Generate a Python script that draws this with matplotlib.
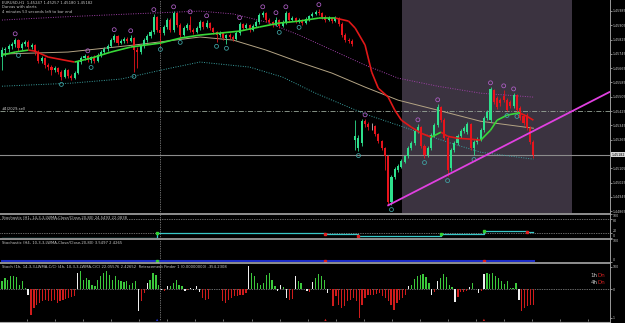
import matplotlib
matplotlib.use("Agg")
import matplotlib.pyplot as plt
import numpy as np
from matplotlib.collections import LineCollection
from matplotlib.lines import Line2D

# ──────────────────────────────────────────────────────────────
# Data (EURUSD candles)
# ──────────────────────────────────────────────────────────────

opens = [
    1.45727, 1.45766, 1.45772, 1.45788, 1.45800, 1.45822, 1.45777, 1.45800, 1.45811, 1.45783,
    1.45794, 1.45755, 1.45704, 1.45721, 1.45682, 1.45671, 1.45654, 1.45665, 1.45643, 1.45615,
    1.45654, 1.45620, 1.45609, 1.45637, 1.45699, 1.45721, 1.45732, 1.45710, 1.45727, 1.45704,
    1.45738, 1.45755, 1.45772, 1.45788, 1.45822, 1.45844, 1.45805, 1.45816, 1.45828, 1.45816,
    1.45833, 1.45766, 1.45755, 1.45788, 1.45822, 1.45844, 1.45867, 1.45951, 1.45878, 1.45861,
    1.45895, 1.45934, 1.45878, 1.45973, 1.45906, 1.45850, 1.45889, 1.45906, 1.45878, 1.45867,
    1.45889, 1.45923, 1.45895, 1.45917, 1.45889, 1.45867, 1.45850, 1.45861, 1.45833, 1.45850,
    1.45839, 1.45828, 1.45861, 1.45912, 1.45889, 1.45906, 1.45878, 1.45900, 1.45923, 1.45962,
    1.45973, 1.45934, 1.45923, 1.45906, 1.45934, 1.45900, 1.45923, 1.45973, 1.45934, 1.45945,
    1.45928, 1.45934, 1.45917, 1.45940, 1.45956, 1.45968, 1.45979, 1.45973, 1.45951, 1.45934,
    1.45945, 1.45928, 1.45945, 1.45912, 1.45850, 1.45822, 1.45816, 1.45262, 1.45217, 1.45245,
    1.45368, 1.45352, 1.45340, 1.45340, 1.45296, 1.45256, 1.45217, 1.45172, 1.44915, 1.45055,
    1.45094, 1.45111, 1.45139, 1.45172, 1.45217, 1.45245, 1.45312, 1.45335, 1.45228, 1.45178,
    1.45217, 1.45290, 1.45346, 1.45447, 1.45374, 1.45273, 1.45105, 1.45206, 1.45245, 1.45284,
    1.45312, 1.45307, 1.45352, 1.45217, 1.45251, 1.45268, 1.45318, 1.45385, 1.45374, 1.45542,
    1.45497, 1.45486, 1.45508, 1.45486, 1.45475, 1.45452, 1.45514, 1.45441, 1.45396, 1.45402,
    1.45329, 1.45251,
]
closes = [
    1.45766, 1.45772, 1.45788, 1.45800, 1.45822, 1.45777, 1.45800, 1.45811, 1.45783, 1.45794,
    1.45755, 1.45704, 1.45721, 1.45682, 1.45671, 1.45654, 1.45665, 1.45643, 1.45615, 1.45654,
    1.45620, 1.45609, 1.45637, 1.45699, 1.45721, 1.45732, 1.45710, 1.45727, 1.45704, 1.45738,
    1.45755, 1.45772, 1.45788, 1.45822, 1.45844, 1.45805, 1.45816, 1.45828, 1.45816, 1.45833,
    1.45766, 1.45755, 1.45788, 1.45822, 1.45844, 1.45867, 1.45951, 1.45878, 1.45861, 1.45895,
    1.45934, 1.45878, 1.45973, 1.45906, 1.45850, 1.45889, 1.45906, 1.45878, 1.45867, 1.45889,
    1.45923, 1.45895, 1.45917, 1.45889, 1.45867, 1.45850, 1.45861, 1.45833, 1.45850, 1.45839,
    1.45828, 1.45861, 1.45912, 1.45889, 1.45906, 1.45878, 1.45900, 1.45923, 1.45962, 1.45973,
    1.45934, 1.45923, 1.45906, 1.45934, 1.45900, 1.45923, 1.45973, 1.45934, 1.45945, 1.45928,
    1.45934, 1.45917, 1.45940, 1.45956, 1.45968, 1.45979, 1.45973, 1.45951, 1.45934, 1.45945,
    1.45928, 1.45945, 1.45912, 1.45850, 1.45822, 1.45816, 1.45800, 1.45284, 1.45273, 1.45368,
    1.45352, 1.45335, 1.45340, 1.45296, 1.45256, 1.45217, 1.45172, 1.44915, 1.45055, 1.45100,
    1.45116, 1.45144, 1.45172, 1.45217, 1.45245, 1.45312, 1.45335, 1.45228, 1.45178, 1.45217,
    1.45290, 1.45346, 1.45447, 1.45374, 1.45273, 1.45094, 1.45206, 1.45245, 1.45284, 1.45312,
    1.45329, 1.45352, 1.45217, 1.45251, 1.45268, 1.45318, 1.45385, 1.45419, 1.45548, 1.45475,
    1.45447, 1.45469, 1.45486, 1.45430, 1.45452, 1.45514, 1.45430, 1.45385, 1.45357, 1.45329,
    1.45251, 1.45182,
]
highs = [
    1.45783, 1.45783, 1.45800, 1.45811, 1.45833, 1.45828, 1.45811, 1.45822, 1.45822, 1.45805,
    1.45800, 1.45766, 1.45732, 1.45727, 1.45693, 1.45682, 1.45676, 1.45671, 1.45654, 1.45665,
    1.45660, 1.45632, 1.45648, 1.45710, 1.45732, 1.45744, 1.45738, 1.45732, 1.45738, 1.45749,
    1.45766, 1.45783, 1.45800, 1.45833, 1.45856, 1.45850, 1.45828, 1.45839, 1.45839, 1.45850,
    1.45839, 1.45783, 1.45800, 1.45833, 1.45856, 1.45878, 1.45968, 1.45956, 1.45895, 1.45906,
    1.45945, 1.45945, 1.45984, 1.45979, 1.45917, 1.45900, 1.45917, 1.45956, 1.45889, 1.45900,
    1.45934, 1.45928, 1.45934, 1.45923, 1.45895, 1.45872, 1.45872, 1.45867, 1.45856, 1.45861,
    1.45850, 1.45872, 1.45923, 1.45917, 1.45917, 1.45912, 1.45912, 1.45934, 1.45973, 1.45984,
    1.45979, 1.45945, 1.45928, 1.45951, 1.45940, 1.45934, 1.45984, 1.45979, 1.45956, 1.45951,
    1.45945, 1.45940, 1.45951, 1.45962, 1.45979, 1.45990, 1.45996, 1.45979, 1.45962, 1.45956,
    1.45951, 1.45956, 1.45951, 1.45923, 1.45861, 1.45833, 1.45828, 1.45374, 1.45290, 1.45380,
    1.45380, 1.45363, 1.45357, 1.45346, 1.45301, 1.45262, 1.45223, 1.45178, 1.45066, 1.45111,
    1.45128, 1.45156, 1.45182, 1.45228, 1.45256, 1.45324, 1.45352, 1.45340, 1.45240, 1.45228,
    1.45301, 1.45357, 1.45464, 1.45452, 1.45385, 1.45284, 1.45217, 1.45256, 1.45296, 1.45324,
    1.45340, 1.45363, 1.45357, 1.45262, 1.45279, 1.45329, 1.45396, 1.45430, 1.45559, 1.45548,
    1.45508, 1.45497, 1.45542, 1.45497, 1.45486, 1.45525, 1.45520, 1.45452, 1.45408, 1.45413,
    1.45340, 1.45262,
]
lows = [
    1.45654, 1.45732, 1.45755, 1.45772, 1.45783, 1.45760, 1.45766, 1.45788, 1.45772, 1.45772,
    1.45738, 1.45693, 1.45693, 1.45665, 1.45654, 1.45626, 1.45643, 1.45632, 1.45598, 1.45609,
    1.45609, 1.45598, 1.45604, 1.45632, 1.45688, 1.45710, 1.45699, 1.45693, 1.45693, 1.45699,
    1.45727, 1.45744, 1.45760, 1.45783, 1.45811, 1.45794, 1.45800, 1.45805, 1.45805, 1.45811,
    1.45643, 1.45665, 1.45744, 1.45777, 1.45811, 1.45833, 1.45856, 1.45867, 1.45794, 1.45850,
    1.45884, 1.45867, 1.45867, 1.45895, 1.45833, 1.45844, 1.45878, 1.45867, 1.45856, 1.45861,
    1.45878, 1.45884, 1.45889, 1.45878, 1.45856, 1.45811, 1.45839, 1.45822, 1.45800, 1.45828,
    1.45816, 1.45822, 1.45850, 1.45878, 1.45884, 1.45867, 1.45872, 1.45895, 1.45912, 1.45951,
    1.45923, 1.45912, 1.45895, 1.45900, 1.45889, 1.45895, 1.45912, 1.45923, 1.45928, 1.45917,
    1.45917, 1.45906, 1.45912, 1.45928, 1.45951, 1.45962, 1.45962, 1.45940, 1.45923, 1.45928,
    1.45917, 1.45923, 1.45900, 1.45839, 1.45811, 1.45805, 1.45788, 1.45206, 1.45200, 1.45228,
    1.45335, 1.45318, 1.45318, 1.45284, 1.45245, 1.45206, 1.45094, 1.44898, 1.44898, 1.45044,
    1.45083, 1.45105, 1.45133, 1.45161, 1.45206, 1.45234, 1.45301, 1.45217, 1.45161, 1.45167,
    1.45206, 1.45279, 1.45335, 1.45363, 1.45262, 1.45060, 1.45088, 1.45195, 1.45234, 1.45273,
    1.45301, 1.45296, 1.45206, 1.45178, 1.45240, 1.45256, 1.45307, 1.45374, 1.45363, 1.45464,
    1.45436, 1.45452, 1.45475, 1.45424, 1.45441, 1.45441, 1.45419, 1.45374, 1.45346, 1.45318,
    1.45240, 1.45161,
]

# fractal markers (bar index)
fractal_up = [4, 26, 34, 39, 46, 52, 57, 62, 72, 79, 83, 86, 96, 110, 126, 132, 148, 152, 155]
fractal_dn = [5, 18, 27, 40, 48, 54, 65, 68, 84, 90, 108, 118, 128, 135, 143, 153, 156]

# fast MA (green up / red down), sampled
fast_idx = [0, 4, 8, 10, 14, 22, 27, 33, 39, 48, 54, 60, 66, 72, 78, 84, 90, 96, 101, 105,
            107, 110, 112, 114, 117, 119, 121, 124, 127, 130, 133, 135, 138, 142, 145, 148,
            150, 153, 156, 157, 159, 161]
fast_ma = [1.45738, 1.45755, 1.45766, 1.45760, 1.45727, 1.45699, 1.45721, 1.45755, 1.45783,
           1.45805, 1.45833, 1.45850, 1.45861, 1.45872, 1.45895, 1.45917, 1.45928, 1.45945,
           1.45945, 1.45928, 1.45889, 1.45794, 1.45643, 1.45553, 1.45503, 1.45430, 1.45374,
           1.45335, 1.45301, 1.45279, 1.45307, 1.45284, 1.45273, 1.45268, 1.45262, 1.45318,
           1.45374, 1.45402, 1.45413, 1.45413, 1.45396, 1.45374]

# slow MA
slow_idx = [0, 20, 40, 60, 70, 80, 90, 100, 110, 120, 132, 145, 161]
slow_ma = [1.45744, 1.45755, 1.45794, 1.45839, 1.45822, 1.45766, 1.45699, 1.45637, 1.45559,
           1.45486, 1.45430, 1.45368, 1.45329]

# envelope bands
up_idx = [0, 18, 39, 60, 70, 80, 90, 100, 110, 120, 132, 145, 161]
band_up = [1.45934, 1.45951, 1.45968, 1.45984, 1.45968, 1.45923, 1.45850, 1.45766, 1.45682,
           1.45609, 1.45564, 1.45525, 1.45503]
dn_idx = [0, 21, 36, 51, 60, 75, 85, 95, 105, 111, 120, 135, 145, 161]
band_dn = [1.45564, 1.45581, 1.45604, 1.45665, 1.45699, 1.45671, 1.45615, 1.45525, 1.45447,
           1.45402, 1.45346, 1.45251, 1.45195, 1.45156]

trend_idx = [117, 184]
trend_px = [1.44898, 1.45531]

last_price = 1.45182
sell_level = 1.45425
session = (121.2, 172.7)
cursor_bar = 48

# stochastics (step values)
st1_idx = [0, 47, 98, 108, 133, 146, 159, 161]
st1_val = [2, 20, 16, 9, 18, 30, 24, 24]
st2_idx = [0, 47, 98, 146, 161]
st2_val = [3.0, 3.5, 2.8, 2.4, 2.4]
arrow_bars = [47, 98, 146]
arrow_cols = ["#2030d0", "#d02020", "#d02020"]

hist_vals = [
    38, 50, 41, 58, 58, 53, 20, 38, 5, -29,
    -117, -86, -71, -64, -56, -48, -56, -56, -48, -64,
    -56, -48, -45, -41, -38, -33, 73, 80, 42, 50,
    42, 20, 12, 42, 58, 73, 80, 65, 42, 58,
    42, 35, 32, 35, 20, 27, 35, -101, -56, -18,
    27, 42, 73, 65, 20, -5, -10, 12, 12, 27,
    42, 20, 12, -10, -5, 5, -3, 15, -14, -41,
    -48, -45, 0, 0, 0, 0, -56, -64, -48, -41,
    -33, -33, -26, -26, -18, 103, 73, 58, 27, 20,
    27, 65, 73, 42, 12, -8, 20, 8, -41, -48,
    -45, 58, 38, 27, 0, -10, -14, 32, 50, 68,
    58, 42, -18, -5, -77, -33, -71, -86, -79, -56,
    -48, -41, -56, -132, -71, -41, -26, -26, -26, -23,
    -18, -33, -41, -56, -71, -94, -64, -48, -41, -26,
    12, 20, 47, 58, 65, 70, 53, 27, -26, -14,
    38, 50, 68, 53, 20, 8, -59, -38, -14, -14,
    -11, 8, 27, 0, -18, -8, 68, 73, 68, 73,
    58, 50, 35, 23, 38, 5, 5, 27, -48, -101,
    -86, -79, -71, -71,
]

price_ticks = [1.44865, 1.44945, 1.45025, 1.45105, 1.45265, 1.45345, 1.45425, 1.45505,
               1.45585, 1.45665, 1.45745, 1.45825, 1.45905, 1.45985]

# ──────────────────────────────────────────────────────────────
# Style
# ──────────────────────────────────────────────────────────────
BG = "black"
TXT = "#c8c8c8"
BULL = "#2ee08c"
BEAR = "#e8141c"
FS = 2.7
AFS = 2.3

W, H = 625, 323
fig = plt.figure(figsize=(W / 100, H / 100), dpi=100, facecolor=BG)


def panel(top, bottom):
    a = fig.add_axes([0, 1 - bottom / H, 610 / W, (bottom - top) / H])
    a.set_facecolor(BG)
    a.set_xlim(-0.6, 184.2)
    for s in a.spines.values():
        s.set_visible(False)
    a.spines["right"].set_visible(True)
    a.spines["right"].set_color("#9a9a9a")
    a.spines["right"].set_linewidth(0.7)
    a.tick_params(left=False, bottom=False, labelbottom=False, labelleft=False,
                  right=True, labelright=True, colors=TXT, labelsize=AFS,
                  length=1.2, width=0.5, pad=0.6)
    a.axvline(cursor_bar, color="#d0d0d0", ls=(0, (1, 1.5)), lw=0.5, zorder=1)
    return a


ax = panel(0, 213)
s1 = panel(214, 238)
s2 = panel(239, 262)
s3 = panel(263, 321)

# separators
for yy in (213.5, 238.5, 262.5):
    fig.add_artist(Line2D([0, 610 / W], [1 - yy / H] * 2, color="#a8a8a8", lw=1.2))
fig.add_artist(Line2D([0, 610 / W], [1 - 321.5 / H] * 2, color="#a8a8a8", lw=0.8))

# ── main chart ──
ax.set_ylim(1.44855, 1.46046)
ax.axvspan(*session, color="#3b3340", zorder=0, lw=0)
ax.axhline(sell_level, color="#9aa89a", ls=(0, (6, 2, 1, 2)), lw=0.6, zorder=1)
ax.axhline(last_price, color="#8c8c8c", lw=0.8, zorder=1)

ax.plot(up_idx, band_up, color="#a040a8", ls=(0, (1, 1.5)), lw=0.7, zorder=2)
ax.plot(dn_idx, band_dn, color="#3aa0a0", ls=(0, (1, 1.5)), lw=0.7, zorder=2)
ax.plot(slow_idx, slow_ma, color="#b4a484", lw=0.7, zorder=2)

o = np.array(opens); c = np.array(closes)
hi = np.array(highs); lo = np.array(lows)
idx = np.arange(len(o))
col = np.where(c > o, BULL, np.where(c < o, BEAR, "#c0c0c0"))
ax.vlines(idx, lo, hi, colors=col, lw=0.6, zorder=3)
ax.bar(idx, np.maximum(np.abs(c - o), 0.00003), bottom=np.minimum(o, c), width=0.62,
       color=col, lw=0, zorder=4)

# fast MA coloured by slope
fx = np.array(fast_idx, float); fy = np.array(fast_ma)
segs = np.stack([np.column_stack([fx[:-1], fy[:-1]]), np.column_stack([fx[1:], fy[1:]])], axis=1)
seg_col = np.where(np.diff(fy) >= 0, "#38d838", "#e01818")
ax.add_collection(LineCollection(segs, colors=seg_col, lw=1.2, zorder=5))

off = 0.00024
ax.scatter(fractal_up, hi[fractal_up] + off, s=8, facecolors="none", edgecolors="#b060c8",
           lw=0.55, zorder=6)
ax.scatter(fractal_dn, lo[fractal_dn] - off, s=8, facecolors="none", edgecolors="#40a8a8",
           lw=0.55, zorder=6)

ax.plot(trend_idx, trend_px, color="#e040e0", lw=1.3, zorder=7, clip_on=False)

ax.set_yticks(price_ticks)
ax.set_yticklabels([f"{p:.5f}" for p in price_ticks])
ax.text(1.002, last_price, f"{last_price:.5f}", transform=ax.get_yaxis_transform(),
        fontsize=AFS, color="black", va="center", ha="left",
        bbox=dict(fc="#d8d8d8", ec="none", pad=0.3))

ax.text(0.003, 0.997, "EURUSD,H1  1.45247 1.45257 1.45180 1.45182", transform=ax.transAxes,
        fontsize=FS, color=TXT, va="top")
ax.text(0.003, 0.976, "Darvas with alerts", transform=ax.transAxes, fontsize=FS,
        color=TXT, va="top")
ax.text(0.003, 0.955, "4 minutes 53 seconds left to bar end", transform=ax.transAxes,
        fontsize=FS, color=TXT, va="top")
ax.text(0.003, sell_level + 0.00004, "#4|2029,sell", transform=ax.get_yaxis_transform(),
        fontsize=FS, color=TXT, va="bottom")

# ── stochastic 1 ──
s1.set_ylim(0, 100)
for lv in (20, 80):
    s1.axhline(lv, color="#d0d0d0", ls=(0, (1, 1.5)), lw=0.5)
s1.step(st1_idx, st1_val, where="post", color="#38c8c8", lw=0.9, zorder=3)
for k in range(1, len(st1_idx) - 1):
    mc = "#30d030" if st1_val[k] > st1_val[k - 1] else "#e02020"
    s1.plot(st1_idx[k], st1_val[k], marker="s", ms=1.6, color=mc, zorder=4)
s1.set_yticks([0, 20, 80, 100])
s1.text(0.003, 0.93, "Stochastic (H1, 14,3,3,LWMA,Close/Close,20,80) 24.5493 22.0838",
        transform=s1.transAxes, fontsize=FS, color=TXT, va="top")

# ── stochastic 2 ──
s2.set_ylim(0, 100)
s2.step(st2_idx, st2_val, where="post", color="#1c2cc8", lw=2.2, zorder=3)
for k in range(1, len(st2_idx) - 1):
    mc = "#30d030" if st2_val[k] > st2_val[k - 1] else "#e02020"
    s2.plot(st2_idx[k], st2_val[k], marker="s", ms=1.6, color=mc, zorder=4)
s2.set_yticks([0, 100])
s2.text(0.003, 0.93, "Stochastic (H4, 10,3,3,LWMA,Close/Close,20,80) 3.5497 2.4265",
        transform=s2.transAxes, fontsize=FS, color=TXT, va="top")

# tick label placement at the crowded panel edges
l0, l20, l80, l100 = s1.get_yticklabels()
l0.set_va("bottom"); l20.set_va("bottom"); l80.set_va("top"); l100.set_va("top")
m0, m100 = s2.get_yticklabels()
m0.set_va("bottom"); m100.set_va("top")

# ── stoch histogram ──
s3.set_ylim(-145, 118)
hv = np.array(hist_vals, float)
hx = np.linspace(0, len(o) - 1, len(hv))
hcol = []
prev = 0
for v in hv:
    sg = np.sign(v)
    if sg != 0 and prev != 0 and sg != prev:
        hcol.append("#f0f0f0")
    else:
        hcol.append("#3cc83c" if v > 0 else "#d01c1c")
    if sg != 0:
        prev = sg
s3.bar(hx, hv, width=0.38, color=hcol, lw=0, zorder=3)
s3.axhline(0, color="#d0d0d0", ls=(0, (1, 1.5)), lw=0.5)
s3.scatter(arrow_bars, [-140] * len(arrow_bars), marker="^", s=3, c=arrow_cols, lw=0, zorder=4)
s3.set_yticks([100, 0, -131])
s3.set_yticklabels(["100", "0", "1"])
s3.set_xticks(np.arange(7.6, 184, 8.5))
s3.tick_params(axis="x", bottom=True, direction="in", length=1.5, width=0.5,
               color="#a8a8a8", labelbottom=False)
s3.text(0.003, 0.965,
        "Stoch (1h, 14,3,3,LWMA,C/C) (4h, 10,3,3,LWMA,C/C) 22.05576 2.42652  "
        "Retracement Finder 1 (0.00000000) -354.2308",
        transform=s3.transAxes, fontsize=FS, color=TXT, va="top")
s3.text(0.979, 0.76, "1h", transform=s3.transAxes, fontsize=4, color=TXT, ha="right")
s3.text(0.979, 0.76, "Dn", transform=s3.transAxes, fontsize=4, color="#d02020", ha="left")
s3.text(0.979, 0.64, "4h", transform=s3.transAxes, fontsize=4, color=TXT, ha="right")
s3.text(0.979, 0.64, "Dn", transform=s3.transAxes, fontsize=4, color="#d02020", ha="left")

fig.savefig("out.png", dpi=100, facecolor=BG)
